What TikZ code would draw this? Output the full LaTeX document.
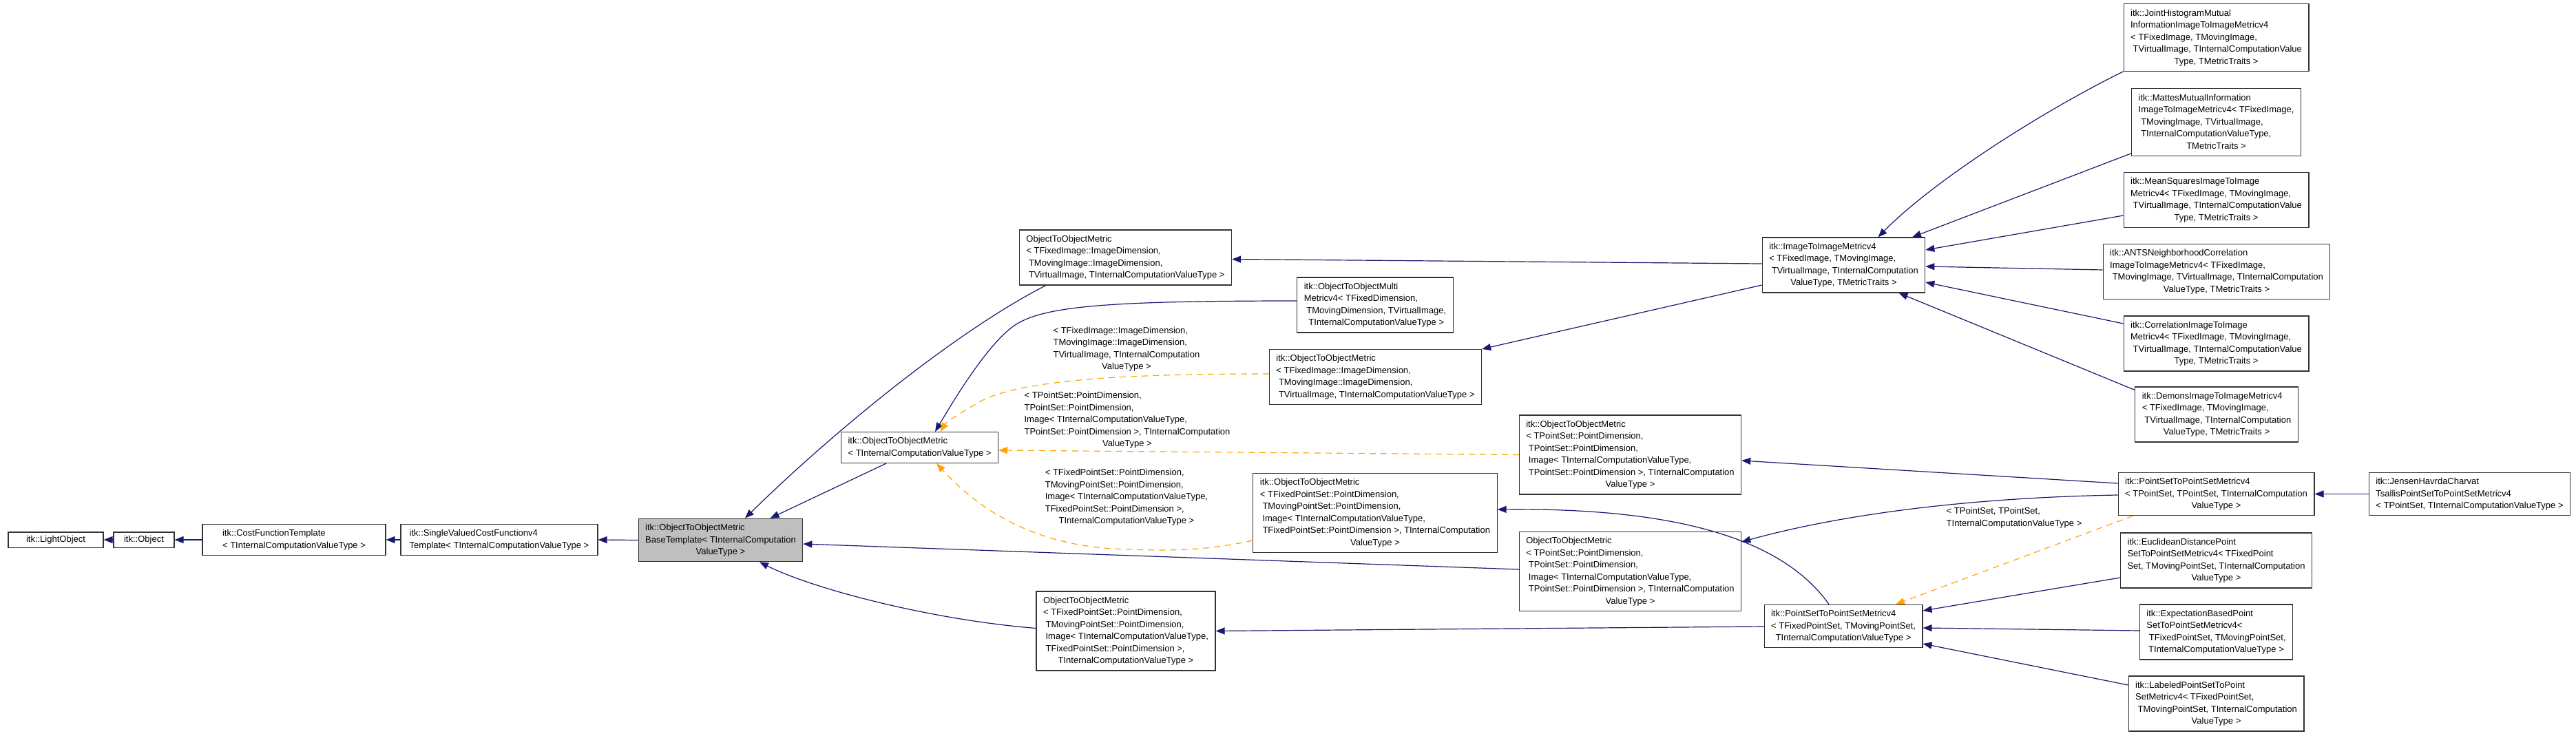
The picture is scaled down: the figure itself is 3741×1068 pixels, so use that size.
\documentclass[tikz,border=0pt]{standalone}
\usepackage{fontspec}
\setmainfont{Liberation Sans}
\usetikzlibrary{arrows.meta,calc}
\definecolor{navy}{HTML}{191970}
\definecolor{dorange}{HTML}{FFA500}
\definecolor{boxgrey}{HTML}{BFBFBF}
\newcommand{\ml}[2]{\begin{tabular}{@{}l@{}}#1\\\multicolumn{1}{@{}c@{}}{#2}\end{tabular}}
\begin{document}
\begin{tikzpicture}[x=1pt,y=-1pt,
  cls/.style={draw=black!80, line width=1.1pt, fill=white, inner xsep=10pt, inner ysep=5pt, font=\fontsize{13}{17.5}\selectfont},
  lbl/.style={inner sep=0pt, font=\fontsize{13}{17.5}\selectfont},
  inh/.style={draw=navy, line width=1.2pt, -{Triangle[length=13pt,width=10pt]}},
  tpl/.style={draw=dorange, line width=1.2pt, dash pattern=on 9pt off 7pt, -{Triangle[length=13pt,width=10pt]}}]
\fill[white] (0,0) rectangle (3741,1068);
\useasboundingbox (0,0) rectangle (3741,1068);

% nodes
\node[cls, minimum width=138pt] (lo) at (81,784) {itk::LightObject};
\node[cls, minimum width=88pt] (obj) at (209,784) {itk::Object};
\node[cls, minimum width=266pt] (cft) at (427,784) {\ml{itk::CostFunctionTemplate}{< TInternalComputationValueType >}};
\node[cls, minimum width=286pt] (svcf) at (725,784) {\ml{itk::SingleValuedCostFunctionv4}{Template< TInternalComputationValueType >}};
\node[cls, fill=boxgrey] (grey) at (1046.5,784.5) {\ml{itk::ObjectToObjectMetric\\BaseTemplate< TInternalComputation}{ValueType >}};
\node[cls] (oom) at (1335.5,650) {\ml{itk::ObjectToObjectMetric}{< TInternalComputationValueType >}};
\node[cls] (oomimg) at (1634.5,374) {\ml{ObjectToObjectMetric\\< TFixedImage::ImageDimension,\\\ TMovingImage::ImageDimension,}{\ TVirtualImage, TInternalComputationValueType >}};
\node[cls] (multi) at (1997,443) {\ml{itk::ObjectToObjectMulti\\Metricv4< TFixedDimension,\\\ TMovingDimension, TVirtualImage,}{\ TInternalComputationValueType >}};
\node[cls] (oomimgitk) at (1997.5,547.5) {\ml{itk::ObjectToObjectMetric\\< TFixedImage::ImageDimension,\\\ TMovingImage::ImageDimension,}{\ TVirtualImage, TInternalComputationValueType >}};
\node[cls] (oompsitk) at (2367.5,660.5) {\ml{itk::ObjectToObjectMetric\\< TPointSet::PointDimension,\\\ TPointSet::PointDimension,\\\ Image< TInternalComputationValueType,\\\ TPointSet::PointDimension >, TInternalComputation}{ValueType >}};
\node[cls] (oomps) at (2367.5,830) {\ml{ObjectToObjectMetric\\< TPointSet::PointDimension,\\\ TPointSet::PointDimension,\\\ Image< TInternalComputationValueType,\\\ TPointSet::PointDimension >, TInternalComputation}{ValueType >}};
\node[cls] (oomfpsitk) at (1997,745) {\ml{itk::ObjectToObjectMetric\\< TFixedPointSet::PointDimension,\\\ TMovingPointSet::PointDimension,\\\ Image< TInternalComputationValueType,\\\ TFixedPointSet::PointDimension >, TInternalComputation}{ValueType >}};
\node[cls] (oomfps) at (1635,916.5) {\ml{ObjectToObjectMetric\\< TFixedPointSet::PointDimension,\\\ TMovingPointSet::PointDimension,\\\ Image< TInternalComputationValueType,\\\ TFixedPointSet::PointDimension >,}{TInternalComputationValueType >}};
\node[cls] (itim) at (2677.5,385) {\ml{itk::ImageToImageMetricv4\\< TFixedImage, TMovingImage,\\\ TVirtualImage, TInternalComputation}{ValueType, TMetricTraits >}};
\node[cls] (ps2psf) at (2677,909.5) {\ml{itk::PointSetToPointSetMetricv4\\< TFixedPointSet, TMovingPointSet,}{TInternalComputationValueType >}};
\node[cls] (ps2psp) at (3218.5,717.5) {\ml{itk::PointSetToPointSetMetricv4\\< TPointSet, TPointSet, TInternalComputation}{ValueType >}};
\node[cls] (jensen) at (3586.5,717.5) {\ml{itk::JensenHavrdaCharvat\\TsallisPointSetToPointSetMetricv4}{< TPointSet, TInternalComputationValueType >}};
\node[cls] (eucl) at (3218.5,814) {\ml{itk::EuclideanDistancePoint\\SetToPointSetMetricv4< TFixedPoint\\Set, TMovingPointSet, TInternalComputation}{ValueType >}};
\node[cls] (expect) at (3218.5,918) {\ml{itk::ExpectationBasedPoint\\SetToPointSetMetricv4<\\\ TFixedPointSet, TMovingPointSet,}{TInternalComputationValueType >}};
\node[cls] (labeled) at (3218.5,1022) {\ml{itk::LabeledPointSetToPoint\\SetMetricv4< TFixedPointSet,\\\ TMovingPointSet, TInternalComputation}{ValueType >}};
\node[cls] (joint) at (3218.5,54.5) {\ml{itk::JointHistogramMutual\\InformationImageToImageMetricv4\\< TFixedImage, TMovingImage,\\\ TVirtualImage, TInternalComputationValue}{Type, TMetricTraits >}};
\node[cls] (mattes) at (3218.5,177.5) {\ml{itk::MattesMutualInformation\\ImageToImageMetricv4< TFixedImage,\\\ TMovingImage, TVirtualImage,\\\ TInternalComputationValueType,}{TMetricTraits >}};
\node[cls] (mean) at (3218.5,290.5) {\ml{itk::MeanSquaresImageToImage\\Metricv4< TFixedImage, TMovingImage,\\\ TVirtualImage, TInternalComputationValue}{Type, TMetricTraits >}};
\node[cls] (ants) at (3219,394.5) {\ml{itk::ANTSNeighborhoodCorrelation\\ImageToImageMetricv4< TFixedImage,\\\ TMovingImage, TVirtualImage, TInternalComputation}{ValueType, TMetricTraits >}};
\node[cls] (corr) at (3218.5,499) {\ml{itk::CorrelationImageToImage\\Metricv4< TFixedImage, TMovingImage,\\\ TVirtualImage, TInternalComputationValue}{Type, TMetricTraits >}};
\node[cls] (demons) at (3219,602) {\ml{itk::DemonsImageToImageMetricv4\\< TFixedImage, TMovingImage,\\\ TVirtualImage, TInternalComputation}{ValueType, TMetricTraits >}};

% edge labels
\node[lbl] (lab1) at (1636,507) {\ml{< TFixedImage::ImageDimension,\\TMovingImage::ImageDimension,\\TVirtualImage, TInternalComputation}{ValueType >}};
\node[lbl] (lab2) at (1637,610) {\ml{< TPointSet::PointDimension,\\TPointSet::PointDimension,\\Image< TInternalComputationValueType,\\TPointSet::PointDimension >, TInternalComputation}{ValueType >}};
\node[lbl] (lab3) at (1636,722) {\ml{< TFixedPointSet::PointDimension,\\TMovingPointSet::PointDimension,\\Image< TInternalComputationValueType,\\TFixedPointSet::PointDimension >,}{TInternalComputationValueType >}};
\node[lbl] (lab4) at (2925,752) {\ml{< TPointSet, TPointSet,}{TInternalComputationValueType >}};

% left chain
\draw[inh] (obj.west) -- (lo.east);
\draw[inh] (cft.west) -- (obj.east);
\draw[inh] (svcf.west) -- (cft.east);
\draw[inh] (grey.west) -- (svcf.east);

% into grey
\draw[inh] ($(oomimg.south west)+(39,0)$) .. controls (1385,483) and (1206,631) .. ($(grey.north)+(35.5,0)$);
\draw[inh] ($(oom.south)+(-48.5,0)$) -- ($(grey.north)+(72,0)$);
\draw[inh] ($(oomps.west)+(0,-3)$) -- ($(grey.east)+(0,5.5)$);
\draw[inh] ($(oomfps.west)+(0,-4)$) .. controls (1350,900) and (1180,855) .. ($(grey.south)+(56.5,0)$);

% into oom
\draw[inh] ($(multi.west)+(0,-6)$) .. controls (1600,437) and (1510,445) .. (1470,475) .. controls (1430,505) and (1380,590) .. ($(oom.north)+(22.5,0)$);
\draw[tpl] ($(oomimgitk.west)+(0,-4.5)$) .. controls (1650,543) and (1480,550) .. (1420,585) .. controls (1395,600) and (1375,612) .. ($(oom.north)+(30,0)$);
\draw[tpl] (oompsitk.west) -- ($(oom.east)+(0,4)$);
\draw[tpl] ($(oomfpsitk.west)+(0,40)$) .. controls (1750,800) and (1700,800) .. (1640,798) .. controls (1530,796) and (1440,760) .. ($(oom.south)+(24.5,0)$);

% itim
\draw[inh] ($(itim.west)+(0,-2)$) -- ($(oomimg.east)+(0,2.5)$);
\draw[inh] ($(itim.west)+(0,29)$) -- (oomimgitk.north east);
\draw[inh] (joint.south west) .. controls (2950,170) and (2800,270) .. ($(itim.north)+(50,0)$);
\draw[inh] ($(mattes.south west)+(0,-4)$) -- ($(itim.north)+(99.5,0)$);
\draw[inh] ($(mean.west)+(0,22.5)$) -- ($(itim.east)+(0,-22)$);
\draw[inh] ($(ants.west)+(0,-2.5)$) -- ($(itim.east)+(0,2)$);
\draw[inh] ($(corr.west)+(0,-29)$) -- ($(itim.east)+(0,25)$);
\draw[inh] ($(demons.north west)+(0,5)$) -- ($(itim.south)+(80,0)$);

% point sets
\draw[inh] ($(ps2psp.west)+(0,-15.5)$) -- ($(oompsitk.east)+(0,8.5)$);
\draw[inh] ($(ps2psp.west)+(0,1.5)$) .. controls (2900,722) and (2700,740) .. ($(oomps.east)+(0,-43)$);
\draw[inh] (jensen.west) -- (ps2psp.east);
\draw[tpl] ($(ps2psp.south west)+(22,0)$) -- ($(ps2psf.north)+(76,0)$);
\draw[inh] ($(ps2psf.north)+(-21,0)$) .. controls (2580,770) and (2400,738) .. ($(oomfpsitk.east)+(0,-5)$);
\draw[inh] ($(ps2psf.west)+(0,0.5)$) -- (oomfps.east);
\draw[inh] ($(eucl.west)+(0,25)$) -- ($(ps2psf.east)+(0,-22.5)$);
\draw[inh] ($(expect.west)+(0,-2)$) -- ($(ps2psf.east)+(0,2.5)$);
\draw[inh] ($(labeled.west)+(0,-27)$) -- ($(ps2psf.east)+(0,25.5)$);
\end{tikzpicture}
\end{document}
